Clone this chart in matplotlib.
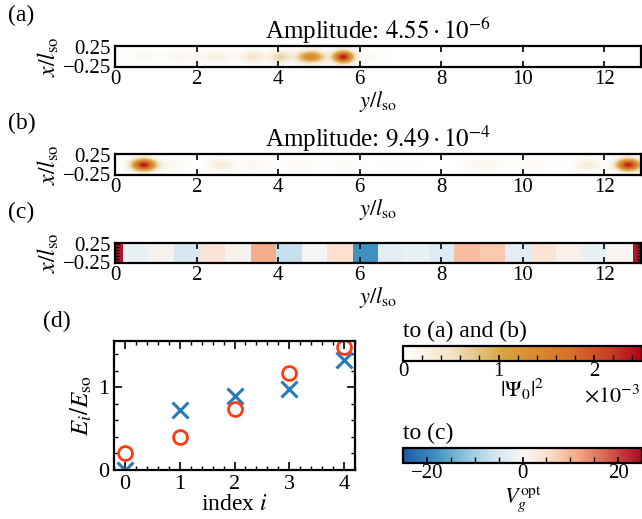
import numpy as np
import matplotlib
matplotlib.use("Agg")
import matplotlib.pyplot as plt
from matplotlib.colors import LinearSegmentedColormap, ListedColormap, Normalize
from matplotlib.cm import ScalarMappable
from matplotlib.ticker import MultipleLocator, FixedLocator

plt.rcParams.update({
    "font.family": ["Liberation Serif", "DejaVu Serif"],
    "mathtext.fontset": "stix",
    "font.size": 15,
    "axes.labelsize": 16,
    "axes.linewidth": 1.6,
    "xtick.direction": "in",
    "ytick.direction": "in",
    "xtick.top": True,
    "ytick.right": True,
    "xtick.major.width": 1.2,
    "ytick.major.width": 1.2,
    "xtick.minor.width": 1.0,
    "ytick.minor.width": 1.0,
})

# ---------------- data ----------------
channel_length = 12.9          # y / l_so
channel_halfwidth = 0.27       # x / l_so

# density blobs of the ground state, panel (a)
a_centers = [0.7, 1.6, 2.5, 3.4, 4.05, 4.8, 5.6, 6.25]
a_heights = [0.12e-3, 0.16e-3, 0.28e-3, 0.45e-3, 0.65e-3, 1.45e-3, 2.4e-3, 0.1e-3]
a_widths = [0.25, 0.25, 0.3, 0.2, 0.18, 0.24, 0.17, 0.25]

# density blobs of the ground state, panel (b)
b_centers = [0.7, 1.3, 2.6, 3.4, 4.5, 5.6, 7.0, 9.0, 10.2, 11.6, 12.6]
b_heights = [2.4e-3, 0.15e-3, 0.35e-3, 0.14e-3, 0.12e-3, 0.08e-3, 0.06e-3, 0.18e-3, 0.1e-3, 0.35e-3, 2.35e-3]
b_widths = [0.2, 0.25, 0.2, 0.25, 0.3, 0.3, 0.3, 0.3, 0.3, 0.2, 0.2]

amplitude_a = r"Amplitude: $4.55\cdot10^{-6}$"
amplitude_b = r"Amplitude: $9.49\cdot10^{-4}$"

# optimised gate voltages, panel (c)
edge_voltage = 24.0
gate_voltages = [-2, 1, -5, 4, 1, 11, -7, -0.5, 5, -18,
                 -3, -2, -4, 9, 8, -3, 4, 1.5, -2, 0.5]
edge_width = 0.2

# energies, panel (d)
index_i = [0, 1, 2, 3, 4]
energies_circle = [0.20, 0.40, 0.74, 1.17, 1.49]
energies_cross = [0.0, 0.73, 0.90, 0.98, 1.33]

# ---------------- colormaps ----------------
dens_cmap = LinearSegmentedColormap.from_list(
    "dens", [(0.0, "#ffffff"), (0.2, "#f3e3c8"), (0.42, "#daa43c"),
             (0.7, "#d8702a"), (0.88, "#c43a22"), (1.0, "#b0001a")])
dens_norm = Normalize(0, 2.5e-3)
volt_cmap = ListedColormap(plt.get_cmap("RdBu_r")(np.linspace(0.08, 0.92, 256)))
volt_norm = Normalize(-25, 25)

W, H = 642, 519
fig = plt.figure(figsize=(W / 100, H / 100), dpi=100)


def px_axes(x0, y0, x1, y1):
    return fig.add_axes([x0 / W, 1 - y1 / H, (x1 - x0) / W, (y1 - y0) / H])


def density(centers, heights, widths):
    y = np.linspace(0, channel_length, 900)
    x = np.linspace(-channel_halfwidth, channel_halfwidth, 60)
    Y, X = np.meshgrid(y, x)
    rho = np.zeros_like(Y)
    for c, h, w in zip(centers, heights, widths):
        rho += h * np.exp(-0.5 * ((Y - c) / w) ** 2)
    return rho * np.exp(-0.5 * ((X + 0.01) / 0.11) ** 2)


def style_channel(ax):
    ax.set_xlim(0, channel_length)
    ax.set_ylim(-channel_halfwidth, channel_halfwidth)
    ax.set_xticks([0, 2, 4, 6, 8, 10, 12])
    ax.set_yticks([0.25, -0.25])
    ax.set_yticklabels(["0.25", "\u22120.25"])
    ax.tick_params(axis="x", length=4, pad=2)
    ax.tick_params(axis="y", length=0, pad=3)
    ax.set_xlabel(r"$y/l_{\rm so}$", labelpad=0)
    ax.set_ylabel(r"$x/l_{\rm so}$", labelpad=1, fontsize=17)


boxes = [(115, 46, 641, 67), (115, 154, 641, 175), (115, 243, 641, 263)]
labels = ["(a)", "(b)", "(c)"]
titles = [amplitude_a, amplitude_b, None]
blobs = [(a_centers, a_heights, a_widths), (b_centers, b_heights, b_widths), None]

for box, lab, title, blob in zip(boxes, labels, titles, blobs):
    ax = px_axes(*box)
    if blob is not None:
        ax.imshow(density(*blob), cmap=dens_cmap, norm=dens_norm, aspect="auto",
                  origin="lower", interpolation="bilinear",
                  extent=[0, channel_length, -channel_halfwidth, channel_halfwidth])
    else:
        edges = np.concatenate([[0], edge_width + 0.625 * np.arange(len(gate_voltages) + 1),
                                [channel_length]])
        vals = np.array([edge_voltage] + gate_voltages + [edge_voltage])
        ax.pcolormesh(edges, [-channel_halfwidth, channel_halfwidth], vals[None, :],
                      cmap=volt_cmap, norm=volt_norm)
        ax.yaxis.set_minor_locator(MultipleLocator(0.08))
        ax.tick_params(axis="y", which="minor", length=3, width=1.0)
    style_channel(ax)
    fig.text(8 / W, 1 - (box[1] - 31) / H, lab, fontsize=17, va="center")
    if title:
        ax.set_title(title, fontsize=18, pad=5)

# ---------------- panel (d) ----------------
axd = px_axes(114, 341, 355, 470)
axd.plot(index_i, energies_cross, ls="none", marker="x", ms=11, mew=2.2, color="#2a7ab9")
axd.plot(index_i, energies_circle, ls="none", marker="o", ms=10, mew=2.0,
         mfc="none", mec="#ff3b12")
axd.set_xlim(-0.2, 4.2)
axd.set_ylim(0, 1.56)
axd.set_xticks(index_i)
axd.set_yticks([0, 1])
axd.xaxis.set_minor_locator(MultipleLocator(0.2))
axd.yaxis.set_minor_locator(MultipleLocator(0.2))
axd.tick_params(which="major", length=6, labelsize=16)
axd.tick_params(which="minor", length=3)
axd.set_xlabel(r"index $i$", labelpad=0, fontsize=17)
axd.set_ylabel(r"$E_i/E_{\rm so}$", labelpad=3, fontsize=18)
fig.text(43 / W, 1 - 321 / H, "(d)", fontsize=17, va="center")

# ---------------- colorbars ----------------
cb1ax = px_axes(403, 346, 642, 361)
cb1 = fig.colorbar(ScalarMappable(norm=dens_norm, cmap=dens_cmap), cax=cb1ax,
                   orientation="horizontal")
cb1.set_ticks([0, 1e-3, 2e-3])
cb1.set_ticklabels(["0", "1", "2"])
cb1ax.xaxis.set_minor_locator(FixedLocator(np.arange(0, 2.5e-3, 0.2e-3)))
cb1ax.tick_params(which="both", direction="in", length=4, top=False, pad=1)
cb1.outline.set_linewidth(1.6)
cb1.set_label(r"$|\Psi_0|^2$", labelpad=-3)
fig.text(640 / W, 1 - 396 / H, r"$\times10^{-3}$", ha="right", va="center", fontsize=16)
fig.text(403 / W, 1 - 331 / H, "to (a) and (b)", ha="left", va="center", fontsize=17)

cb2ax = px_axes(403, 448, 642, 463)
cb2 = fig.colorbar(ScalarMappable(norm=volt_norm, cmap=volt_cmap), cax=cb2ax,
                   orientation="horizontal")
cb2.set_ticks([-20, 0, 20])
cb2.set_ticklabels(["\u221220", "0", "20"])
cb2ax.xaxis.set_minor_locator(FixedLocator(np.arange(-25, 26, 5)))
cb2ax.tick_params(which="both", direction="in", length=4, top=False, pad=1)
cb2.outline.set_linewidth(1.6)
cb2.set_label(r"$V_g^{\rm opt}$", labelpad=1)
fig.text(403 / W, 1 - 433 / H, "to (c)", ha="left", va="center", fontsize=17)

fig.savefig("out.png", dpi=100)
